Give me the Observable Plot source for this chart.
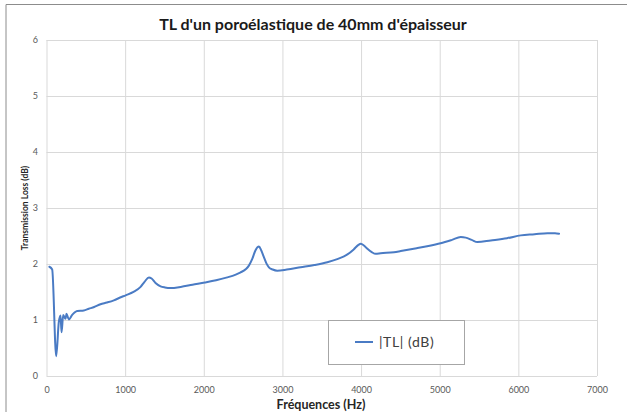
<!DOCTYPE html>
<html>
<head>
<meta charset="utf-8">
<script src="https://cdn.jsdelivr.net/npm/d3@7"></script>
<script src="https://cdn.jsdelivr.net/npm/@observablehq/plot@0.6"></script>
<style>
  html, body { margin: 0; padding: 0; background: #fff; }
  #chart { position: relative; width: 627px; height: 412px; overflow: hidden; }
</style>
</head>
<body>
<div id="chart"></div>
<script>
const title = "TL d'un poroélastique de 40mm d'épaisseur";
const xLabel = "Fréquences (Hz)";
const yLabel = "Transmission Loss (dB)";
const seriesName = "|TL| (dB)";
const xTicks = [0, 1000, 2000, 3000, 4000, 5000, 6000, 7000];
const yTicks = [0, 1, 2, 3, 4, 5, 6];

const freq = [30, 66, 117, 150, 172, 185, 206, 235, 248, 277, 320, 384, 468, 532, 600, 680, 760, 850, 930, 1000,
  1100, 1190, 1240, 1296, 1330, 1380, 1444, 1500, 1571, 1700, 1850, 2008, 2150, 2292, 2400, 2462, 2530, 2567,
  2610, 2650, 2695, 2725, 2758, 2790, 2822, 2870, 2928, 3050, 3225, 3400, 3565, 3700, 3820, 3900, 3960, 3989,
  4030, 4074, 4130, 4180, 4243, 4412, 4498, 4700, 4850, 5006, 5150, 5261, 5324, 5400, 5473, 5643, 5850, 6024,
  6200, 6364, 6460, 6511];
const tl = [1.96, 1.91, 0.36, 0.97, 1.09, 0.79, 1.10, 1.03, 1.12, 1.02, 1.10, 1.17, 1.18, 1.21, 1.24, 1.29, 1.32, 1.36, 1.41, 1.45,
  1.51, 1.60, 1.69, 1.77, 1.75, 1.67, 1.61, 1.59, 1.58, 1.60, 1.64, 1.68, 1.72, 1.77, 1.82, 1.86, 1.92, 1.98,
  2.10, 2.25, 2.32, 2.25, 2.13, 2.02, 1.95, 1.91, 1.89, 1.91, 1.95, 1.99, 2.04, 2.10, 2.18, 2.27, 2.35, 2.37,
  2.34, 2.28, 2.22, 2.19, 2.20, 2.22, 2.24, 2.29, 2.33, 2.38, 2.44, 2.49, 2.48, 2.44, 2.40, 2.43, 2.47, 2.52,
  2.54, 2.56, 2.56, 2.55];

const data = freq.map((f, i) => ({f, v: tl[i]}));
const lineColor = "#4a7bc4";
const gridColor = "#d9d9d9";
const textColor = "#595959";
const font = "Lato, 'Noto Sans', sans-serif";

const W = 627, H = 412;
const plot = Plot.plot({
  width: W, height: H,
  marginLeft: 46.5, marginRight: 30, marginTop: 40, marginBottom: 36,
  style: {fontFamily: font, fontSize: "9px", color: textColor, background: "transparent"},
  x: {domain: [0, 7000], ticks: xTicks, label: null},
  y: {domain: [0, 6], ticks: yTicks, label: null},
  marks: [
    Plot.ruleX(xTicks, {stroke: gridColor, strokeWidth: 1}),
    Plot.ruleY(yTicks, {stroke: gridColor, strokeWidth: 1}),
    Plot.axisX({ticks: xTicks, tickSize: 0, tickPadding: 10, fill: textColor, label: null, tickFormat: d => String(d)}),
    Plot.axisY({ticks: yTicks, tickSize: 0, tickPadding: 9, fill: textColor, label: null, tickFormat: d => String(d)}),
    Plot.line(data, {x: "f", y: "v", stroke: lineColor, strokeWidth: 2, curve: "monotone-x"})
  ]
});
document.getElementById("chart").appendChild(plot);

const svg = d3.select(plot);
// outer chart frame (top and left edges visible)
svg.append("path").attr("d", `M6,${H} V4.5 H${W}`).attr("fill", "none").attr("stroke", "#8c8c8c").attr("stroke-width", 1);
// title
svg.append("text").attr("x", 313).attr("y", 30).attr("text-anchor", "middle")
  .attr("font-family", font).attr("font-weight", "bold").attr("font-size", 16)
  .attr("fill", "#1a1a1a").text(title);
// x label
svg.append("text").attr("x", 321).attr("y", 409).attr("text-anchor", "middle")
  .attr("font-family", font).attr("font-weight", "bold").attr("font-size", 12.5)
  .attr("fill", "#262626").text(xLabel);
// y label
svg.append("text").attr("transform", "translate(28,208) rotate(-90)").attr("text-anchor", "middle")
  .attr("font-family", font).attr("font-weight", "bold").attr("font-size", 8.5)
  .attr("fill", "#262626").text(yLabel);
// legend
const lg = svg.append("g");
lg.append("rect").attr("x", 328.5).attr("y", 320.5).attr("width", 136).attr("height", 44)
  .attr("fill", "#fff").attr("stroke", "#a6a6a6").attr("stroke-width", 1);
lg.append("line").attr("x1", 355).attr("x2", 373).attr("y1", 342).attr("y2", 342)
  .attr("stroke", lineColor).attr("stroke-width", 2);
lg.append("text").attr("x", 379).attr("y", 347).attr("text-anchor", "start")
  .attr("font-family", font).attr("font-size", 14).attr("letter-spacing", 0.6)
  .attr("fill", "#404040").text(seriesName);
</script>
</body>
</html>
